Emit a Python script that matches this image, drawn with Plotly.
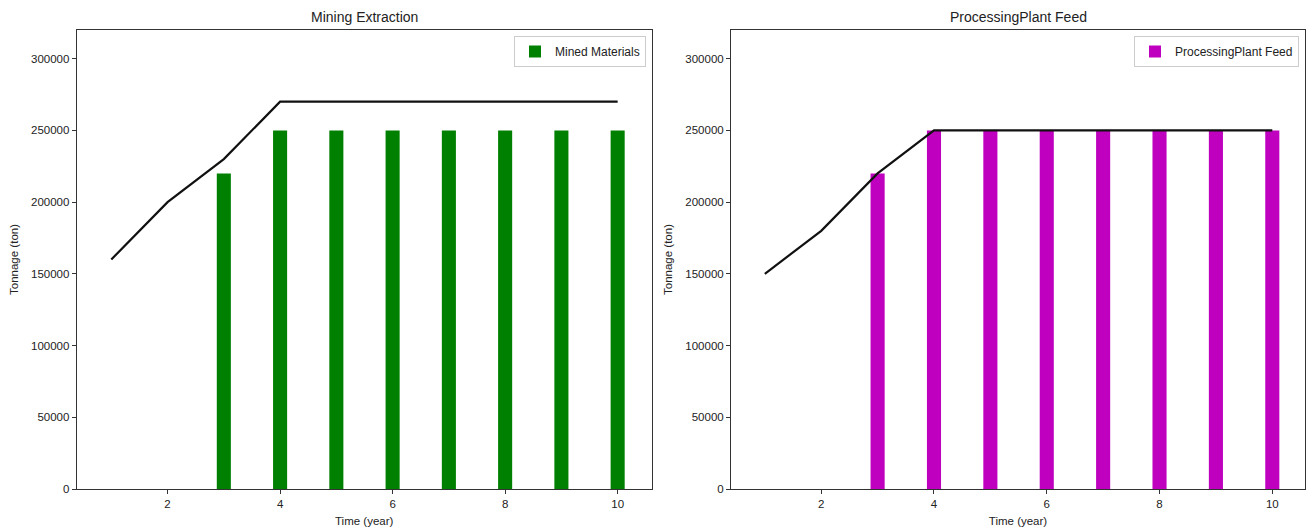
import plotly.graph_objects as go

# Years and tonnage series
years = [1, 2, 3, 4, 5, 6, 7, 8, 9, 10]
mined = [0, 0, 220000, 250000, 250000, 250000, 250000, 250000, 250000, 250000]
mining_capacity = [160000, 200000, 230000, 270000, 270000, 270000, 270000, 270000, 270000, 270000]
feed = [0, 0, 220000, 250000, 250000, 250000, 250000, 250000, 250000, 250000]
plant_capacity = [150000, 180000, 220000, 250000, 250000, 250000, 250000, 250000, 250000, 250000]

W, H = 1312, 531
FONT = "Liberation Sans, Arial, sans-serif"
TXT = "#222222"

fig = go.Figure()

fig.add_trace(go.Bar(x=years, y=mined, width=0.25, name="Mined Materials",
                     marker=dict(color="#008000", line=dict(width=0)),
                     xaxis="x", yaxis="y", legend="legend"))
fig.add_trace(go.Scatter(x=years, y=mining_capacity, mode="lines",
                         line=dict(color="#111111", width=2.2), showlegend=False,
                         xaxis="x", yaxis="y"))
fig.add_trace(go.Bar(x=years, y=feed, width=0.25, name="ProcessingPlant Feed",
                     marker=dict(color="#bf00bf", line=dict(width=0)),
                     xaxis="x2", yaxis="y2", legend="legend2"))
fig.add_trace(go.Scatter(x=years, y=plant_capacity, mode="lines",
                         line=dict(color="#111111", width=2.2), showlegend=False,
                         xaxis="x2", yaxis="y2"))

y_dom = [1 - 489 / H, 1 - 30 / H]
ax_common = dict(showline=True, mirror=True, linecolor="#333333", linewidth=1,
                 ticks="outside", ticklen=4, tickcolor="#333333", showgrid=False,
                 zeroline=False, automargin=False,
                 tickfont=dict(size=11.5, color=TXT, family=FONT))
xticks = [2, 4, 6, 8, 10]
yticks = [0, 50000, 100000, 150000, 200000, 250000, 300000]
xtitle = dict(text="Time (year)", font=dict(size=11.5, color=TXT), standoff=8)
ytitle = dict(text="Tonnage (ton)", font=dict(size=11.5, color=TXT), standoff=10)

fig.update_layout(
    width=W, height=H,
    margin=dict(l=0, r=0, t=0, b=0),
    paper_bgcolor="white", plot_bgcolor="white",
    font=dict(family=FONT, color=TXT),
    barmode="overlay",
    xaxis=dict(domain=[76.7 / W, 651.7 / W], range=[0.385, 10.605], tickvals=xticks,
               title=xtitle, anchor="y", **ax_common),
    yaxis=dict(domain=y_dom, range=[0, 320000], tickvals=yticks, tickformat="d",
               title=ytitle, anchor="x", **ax_common),
    xaxis2=dict(domain=[731 / W, 1305 / W], range=[0.4, 10.58], tickvals=xticks,
                title=xtitle, anchor="y2", **ax_common),
    yaxis2=dict(domain=y_dom, range=[0, 320000], tickvals=yticks, tickformat="d",
                title=ytitle, anchor="x2", **ax_common),
    legend=dict(x=646 / W, y=1 - 36 / H, xanchor="right", yanchor="top",
                bgcolor="rgba(255,255,255,0.8)", bordercolor="#cccccc", borderwidth=1,
                font=dict(size=12, family=FONT, color=TXT), itemwidth=30,
                tracegroupgap=0),
    legend2=dict(x=1299 / W, y=1 - 36 / H, xanchor="right", yanchor="top",
                 bgcolor="rgba(255,255,255,0.8)", bordercolor="#cccccc", borderwidth=1,
                 font=dict(size=12, family=FONT, color=TXT), itemwidth=30,
                 tracegroupgap=0),
    annotations=[
        dict(text="Mining Extraction", x=(76.7 + 651.7) / 2 / W, y=1 - 17 / H,
             xref="paper", yref="paper", showarrow=False, xanchor="center",
             yanchor="middle", font=dict(size=14, family=FONT, color=TXT)),
        dict(text="ProcessingPlant Feed", x=(731 + 1305) / 2 / W, y=1 - 17 / H,
             xref="paper", yref="paper", showarrow=False, xanchor="center",
             yanchor="middle", font=dict(size=14, family=FONT, color=TXT)),
    ],
)

fig.write_html("out.html")
